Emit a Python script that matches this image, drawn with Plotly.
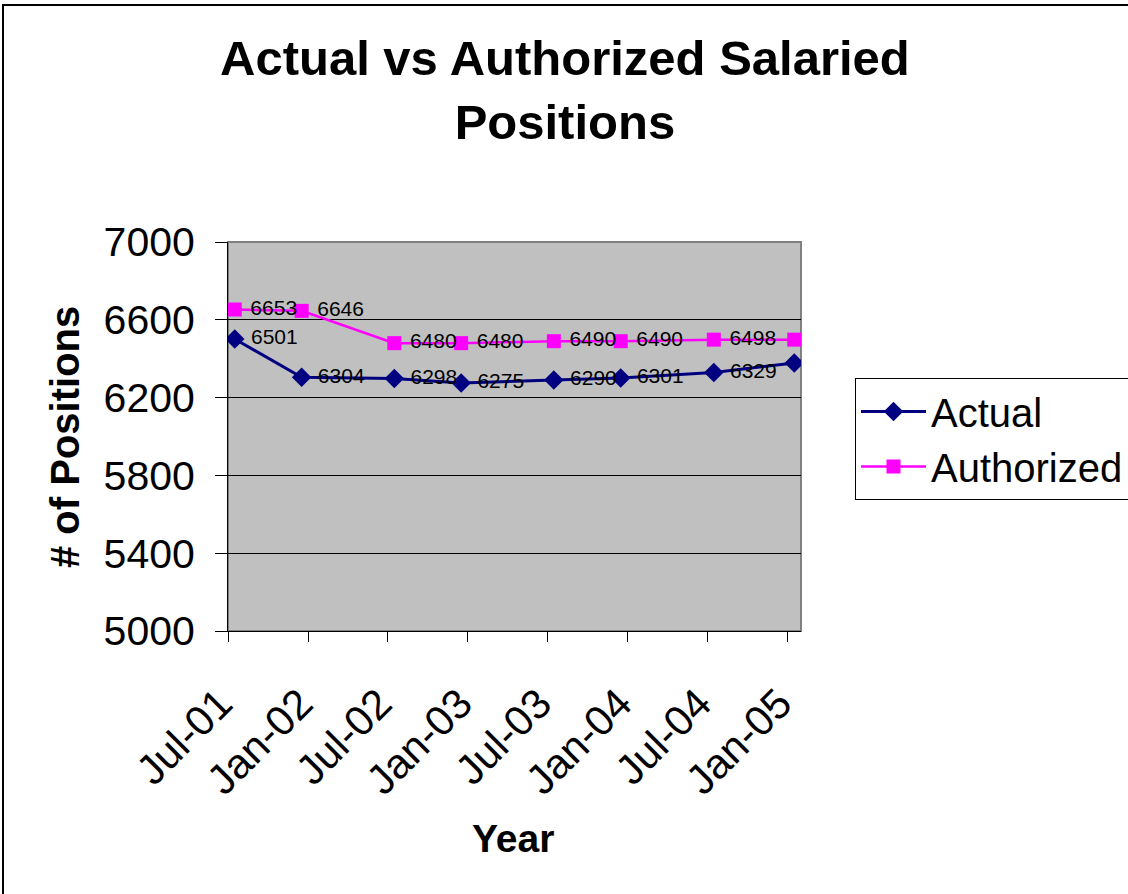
import plotly.graph_objects as go

# Monthly reporting periods and head counts
months = ["2001-07", "2001-12", "2002-07", "2002-12", "2003-07", "2003-12", "2004-07", "2005-01"]
actual = [6501, 6304, 6298, 6275, 6290, 6301, 6329, 6378]
authorized = [6653, 6646, 6480, 6480, 6490, 6490, 6498, 6498]

FONT = "Liberation Sans, Arial, sans-serif"

# Pixel geometry of the plotting area inside the 1128x894 canvas
PL, PR, PT, PB = 228, 801, 242, 631


def px_x(px):
    return (px - PL) / (PR - PL)


def px_y(py):
    return (PB - py) / (PB - PT)


fig = go.Figure()

fig.add_trace(go.Scatter(
    x=months, y=actual, name="Actual",
    xperiod="M1", xperiodalignment="middle",
    mode="lines+markers+text",
    line=dict(color="#000080", width=3),
    marker=dict(symbol="diamond", size=15, color="#000080"),
    text=[str(v) for v in actual],
    texttemplate=" %{text}",
    textposition="middle right",
    textfont=dict(family=FONT, size=21, color="black"),
))

fig.add_trace(go.Scatter(
    x=months, y=authorized, name="Authorized",
    xperiod="M1", xperiodalignment="middle",
    mode="lines+markers+text",
    line=dict(color="#FF00FF", width=2.5),
    marker=dict(symbol="square", size=14, color="#FF00FF"),
    text=[str(v) for v in authorized],
    texttemplate=" %{text}",
    textposition="middle right",
    textfont=dict(family=FONT, size=21, color="black"),
))

fig.update_layout(
    width=1128, height=894,
    margin=dict(l=PL, r=1128 - PR, t=PT, b=894 - PB, autoexpand=False),
    paper_bgcolor="white",
    plot_bgcolor="#C0C0C0",
    font=dict(family=FONT, color="black"),
    showlegend=True,
    legend=dict(
        x=px_x(855), y=px_y(378), xanchor="left", yanchor="top",
        bgcolor="white", bordercolor="black", borderwidth=1,
        font=dict(family=FONT, size=40, color="black"),
        itemwidth=65,
        tracegroupgap=0,
    ),
)

fig.update_xaxes(
    type="date",
    range=["2001-07-01", "2005-02-01"],
    tick0="2001-07-01", dtick="M6", tickformat="%b-%y",
    tickangle=-45,
    tickfont=dict(family=FONT, size=42, color="black"),
    ticks="outside", ticklen=10, tickcolor="black", tickwidth=1,
    ticklabelstandoff=20, ticklabelshift=-8,
    showline=True, linecolor="black", linewidth=1,
    showgrid=False, zeroline=False,
)

fig.update_yaxes(
    range=[5000, 7000], dtick=400, tick0=5000,
    tickfont=dict(family=FONT, size=41, color="black"),
    ticks="outside", ticklen=12, tickcolor="black", tickwidth=1,
    ticklabelstandoff=12,
    showline=True, linecolor="black", linewidth=1,
    showgrid=True, gridcolor="black", gridwidth=1,
    zeroline=False,
)

# Gray frame around the plotting area
fig.add_shape(type="rect", xref="paper", yref="paper", x0=0, x1=1, y0=0, y1=1,
              line=dict(color="#808080", width=2), layer="below")

# Outer chart border (runs past the right and bottom edges)
fig.add_shape(type="rect", xref="paper", yref="paper",
              x0=px_x(3), x1=2.0, y0=-1.0, y1=px_y(5),
              line=dict(color="black", width=2), layer="above")

# Chart title
fig.add_annotation(text="<b>Actual vs Authorized Salaried<br>Positions</b>",
                   xref="paper", yref="paper",
                   x=px_x(565), y=px_y(29), xanchor="center", yanchor="top",
                   showarrow=False, align="center",
                   font=dict(family=FONT, size=49, color="black"))

# Axis titles
fig.add_annotation(text="<b>Year</b>", xref="paper", yref="paper",
                   x=px_x(513), y=px_y(838),
                   xanchor="center", yanchor="middle", showarrow=False,
                   font=dict(family=FONT, size=39, color="black"))
fig.add_annotation(text="<b># of Positions</b>", xref="paper", yref="paper",
                   x=px_x(65), y=px_y(437),
                   xanchor="center", yanchor="middle", showarrow=False,
                   textangle=-90,
                   font=dict(family=FONT, size=40, color="black"))

fig.write_html("out.html")
